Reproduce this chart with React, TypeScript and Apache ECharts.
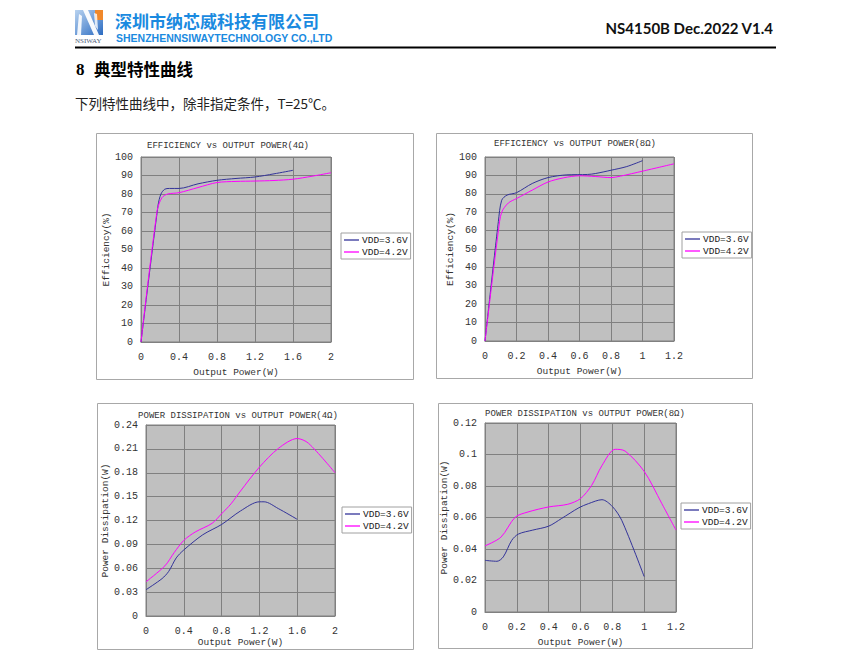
import React, { useEffect, useRef } from 'react';
import * as echarts from 'echarts';

const NAMES = ['VDD=3.6V', 'VDD=4.2V'];

// Efficiency vs output power (4 ohm)
const eff4V36 = [[0, 0], [0.18, 74], [0.21, 80], [0.25, 82.6], [0.3, 83], [0.4, 83], [0.6, 85.5], [0.8, 87.4], [1.0, 88.4], [1.2, 89.2], [1.4, 90.9], [1.6, 92.8]];
const eff4V42 = [[0, 0], [0.17, 71], [0.22, 78], [0.28, 80], [0.4, 80.7], [0.6, 83.5], [0.8, 86.2], [1.0, 86.8], [1.2, 87], [1.4, 87.3], [1.6, 88], [1.8, 89.6], [2.0, 91.5]];

// Efficiency vs output power (8 ohm)
const eff8V36 = [[0, 0], [0.085, 65], [0.106, 76.5], [0.14, 79.3], [0.2, 80.6], [0.3, 85.6], [0.4, 88.8], [0.52, 90.3], [0.65, 90.5], [0.7, 91], [0.8, 92.8], [0.9, 94.8], [1.0, 98]];
const eff8V42 = [[0, 0], [0.085, 60], [0.106, 70], [0.148, 75], [0.2, 77.4], [0.3, 82], [0.4, 86.4], [0.5, 88.7], [0.6, 89.8], [0.7, 89.4], [0.8, 88.8], [0.86, 89.6], [1.0, 92.3], [1.2, 96.3]];

// Power dissipation vs output power (4 ohm)
const pd4V36 = [[0, 0.033], [0.17, 0.047], [0.24, 0.056], [0.32, 0.073], [0.4, 0.083], [0.6, 0.102], [0.8, 0.115], [1.0, 0.132], [1.2, 0.1435], [1.25, 0.1435], [1.4, 0.135], [1.6, 0.1215]];
const pd4V42 = [[0, 0.043], [0.2, 0.063], [0.3, 0.08], [0.4, 0.095], [0.52, 0.1055], [0.7, 0.1165], [0.8, 0.1285], [0.9, 0.141], [1.0, 0.157], [1.2, 0.187], [1.4, 0.2105], [1.6, 0.223], [1.72, 0.217], [2.0, 0.18]];

// Power dissipation vs output power (8 ohm)
const pd8V36 = [[0, 0.0328], [0.075, 0.0322], [0.115, 0.035], [0.168, 0.0455], [0.21, 0.0495], [0.3, 0.052], [0.4, 0.0545], [0.48, 0.0593], [0.59, 0.0662], [0.65, 0.0688], [0.735, 0.0713], [0.8, 0.067], [0.86, 0.058], [1.0, 0.0225]];
const pd8V42 = [[0, 0.042], [0.1, 0.0475], [0.19, 0.0602], [0.27, 0.0635], [0.4, 0.0667], [0.52, 0.0684], [0.6, 0.072], [0.67, 0.0804], [0.735, 0.093], [0.818, 0.1033], [0.88, 0.1022], [1.0, 0.0893], [1.11, 0.069], [1.2, 0.052]];

const TITLES = [
  'EFFICIENCY vs OUTPUT POWER(4Ω)',
  'EFFICIENCY vs OUTPUT POWER(8Ω)',
  'POWER DISSIPATION vs OUTPUT POWER(4Ω)',
  'POWER DISSIPATION vs OUTPUT POWER(8Ω)',
];
const Y_NAMES = ['Efficiency(%)', 'Efficiency(%)', 'Power Dissipation(W)', 'Power Dissipation(W)'];
const X_NAME = 'Output Power(W)';
const X_MAX = [2, 1.2, 2, 1.2];
const X_STEP = [0.4, 0.2, 0.4, 0.2];
const Y_MAX = [100, 100, 0.24, 0.12];
const Y_STEP = [10, 10, 0.03, 0.02];
const DATA = [
  [eff4V36, eff4V42],
  [eff8V36, eff8V42],
  [pd4V36, pd4V42],
  [pd8V36, pd8V42],
];

const HEADER_CN = '深圳市纳芯威科技有限公司';
const HEADER_EN = 'SHENZHENNSIWAYTECHNOLOGY CO.,LTD';
const DOC_ID = 'NS4150B Dec.2022 V1.4';
const SECTION = '典型特性曲线';
const INTRO = '下列特性曲线中，除非指定条件，T=25℃。';

// layout (px)
const GRIDS = [
  { left: 141, top: 157, width: 190, height: 185 },
  { left: 485, top: 157, width: 189, height: 184 },
  { left: 146, top: 425, width: 189, height: 191 },
  { left: 485, top: 423, width: 191, height: 189 },
];
const FRAMES = [
  { x: 96.5, y: 133.5, width: 317, height: 246 },
  { x: 436.5, y: 133.5, width: 316, height: 245 },
  { x: 97.5, y: 403.5, width: 316, height: 246 },
  { x: 438.5, y: 403.5, width: 314, height: 245 },
];
const TITLE_POS = [[228, 146], [575, 144], [238, 416], [585, 414]];
const LEGEND_POS = [[341, 233], [682, 232], [342, 507], [681, 503]];
const Y_NAME_GAP = [29, 28, 34, 36];
const X_NAME_GAP = [25, 25, 21, 25];

const COLORS = ['#333399', '#ff00ff'];
const MONO = '"Liberation Mono", "DejaVu Sans Mono", monospace';

export default function App() {
  const ref = useRef<HTMLDivElement>(null);

  useEffect(() => {
    if (!ref.current) return;
    const chart = echarts.init(ref.current, undefined, { renderer: 'svg' });

    const grid: any[] = [];
    const xAxis: any[] = [];
    const yAxis: any[] = [];
    const series: any[] = [];
    const legend: any[] = [];
    const graphic: any[] = [];

    for (let i = 0; i < 4; i++) {
      grid.push({
        ...GRIDS[i],
        show: true,
        backgroundColor: '#c0c0c0',
        borderColor: '#808080',
        borderWidth: 1,
        containLabel: false,
      });
      xAxis.push({
        type: 'value',
        gridIndex: i,
        min: 0,
        max: X_MAX[i],
        interval: X_STEP[i],
        name: X_NAME,
        nameLocation: 'middle',
        nameGap: X_NAME_GAP[i],
        nameTextStyle: { fontFamily: MONO, fontSize: 9.5, color: '#333' },
        axisLine: { show: true, lineStyle: { color: '#808080', width: 1 } },
        axisTick: { show: false },
        axisLabel: { fontFamily: MONO, fontSize: 10, color: '#333', margin: 10 },
        splitLine: { show: true, lineStyle: { color: '#808080', width: 1 } },
      });
      yAxis.push({
        type: 'value',
        gridIndex: i,
        min: 0,
        max: Y_MAX[i],
        interval: Y_STEP[i],
        name: Y_NAMES[i],
        nameLocation: 'middle',
        nameGap: Y_NAME_GAP[i],
        nameTextStyle: { fontFamily: MONO, fontSize: 9.5, color: '#333' },
        axisLine: { show: true, lineStyle: { color: '#808080', width: 1 } },
        axisTick: { show: false },
        axisLabel: { fontFamily: MONO, fontSize: 10, color: '#333', margin: 8 },
        splitLine: { show: true, lineStyle: { color: '#808080', width: 1 } },
      });
      for (let s = 0; s < 2; s++) {
        series.push({
          type: 'line',
          name: NAMES[s],
          xAxisIndex: i,
          yAxisIndex: i,
          data: DATA[i][s],
          smooth: 0.3,
          showSymbol: false,
          symbol: 'none',
          color: COLORS[s],
          lineStyle: { color: COLORS[s], width: 1 },
        });
      }
      legend.push({
        data: NAMES,
        orient: 'vertical',
        left: LEGEND_POS[i][0],
        top: LEGEND_POS[i][1],
        icon: 'rect',
        itemWidth: 15,
        itemHeight: 1.3,
        itemGap: 2,
        padding: [2, 3, 2, 3],
        borderColor: '#a0a0a0',
        borderWidth: 1,
        backgroundColor: '#fff',
        selectedMode: false,
        textStyle: { fontFamily: MONO, fontSize: 9.5, color: '#222', padding: [0, 0, 0, -2] },
      });
      graphic.push({
        type: 'rect',
        shape: FRAMES[i],
        z: -10,
        style: { fill: 'none', stroke: '#a8a8a8', lineWidth: 1 },
      });
      graphic.push({
        type: 'text',
        x: TITLE_POS[i][0],
        y: TITLE_POS[i][1],
        style: {
          text: TITLES[i],
          fontFamily: MONO,
          fontSize: 9,
          fill: '#333',
          align: 'center',
          verticalAlign: 'middle',
        },
      });
    }

    // Header: logo
    graphic.push({
      type: 'group',
      x: 75,
      y: 10,
      children: [
        {
          type: 'rect',
          shape: { x: 0, y: 0, width: 28, height: 25 },
          style: {
            fill: new echarts.graphic.LinearGradient(0, 0, 1, 1, [
              { offset: 0, color: '#b9d3f0' },
              { offset: 1, color: '#2c6cc2' },
            ]),
          },
        },
        { type: 'rect', shape: { x: 20, y: 0, width: 8, height: 10 }, style: { fill: '#f0882a' } },
        { type: 'polygon', shape: { points: [[2, 25], [6, 25], [7, 6], [4, 4]] }, style: { fill: '#ffffff', opacity: 0.9 } },
        { type: 'polygon', shape: { points: [[8, 0], [13, 0], [24, 25], [19, 25]] }, style: { fill: '#ffffff', opacity: 0.95 } },
        { type: 'polygon', shape: { points: [[19, 3], [22, 4], [23, 20], [20, 16]] }, style: { fill: '#ffffff', opacity: 0.8 } },
        {
          type: 'text',
          x: 0,
          y: 31,
          style: { text: 'NSIWAY', fontFamily: '"Liberation Serif", serif', fontSize: 7, fill: '#4d5b78', align: 'left', verticalAlign: 'middle' },
        },
      ],
    });
    graphic.push({
      type: 'text',
      x: 115,
      y: 20,
      style: {
        text: HEADER_CN,
        fontFamily: '"Noto Sans CJK SC", sans-serif',
        fontWeight: 'bold',
        fontSize: 17,
        fill: '#1a8ae0',
        align: 'left',
        verticalAlign: 'middle',
      },
    });
    graphic.push({
      type: 'text',
      x: 116,
      y: 38,
      style: {
        text: HEADER_EN,
        fontFamily: '"Liberation Sans", sans-serif',
        fontWeight: 'bold',
        fontSize: 10.5,
        fill: '#1a8ae0',
        align: 'left',
        verticalAlign: 'middle',
      },
    });
    graphic.push({
      type: 'text',
      x: 773,
      y: 28,
      style: {
        text: DOC_ID,
        fontFamily: 'Lato, "Open Sans", sans-serif',
        fontWeight: 'bold',
        fontSize: 15,
        fill: '#111',
        align: 'right',
        verticalAlign: 'middle',
      },
    });
    graphic.push({
      type: 'line',
      shape: { x1: 75, y1: 47.5, x2: 776, y2: 47.5 },
      style: { stroke: '#000', lineWidth: 2 },
    });
    graphic.push({
      type: 'text',
      x: 76,
      y: 69,
      style: {
        text: '8',
        fontFamily: '"Liberation Serif", serif',
        fontWeight: 'bold',
        fontSize: 17,
        fill: '#000',
        align: 'left',
        verticalAlign: 'middle',
      },
    });
    graphic.push({
      type: 'text',
      x: 94,
      y: 69,
      style: {
        text: SECTION,
        fontFamily: '"Noto Sans CJK SC", sans-serif',
        fontWeight: 'bold',
        fontSize: 16.5,
        fill: '#000',
        align: 'left',
        verticalAlign: 'middle',
      },
    });
    graphic.push({
      type: 'text',
      x: 75,
      y: 103,
      style: {
        text: INTRO,
        fontFamily: '"Noto Sans CJK SC", sans-serif',
        fontSize: 13.5,
        fill: '#222',
        align: 'left',
        verticalAlign: 'middle',
      },
    });

    chart.setOption({
      animation: false,
      backgroundColor: '#ffffff',
      grid,
      xAxis,
      yAxis,
      legend,
      series,
      graphic,
    });

    return () => {
      chart.dispose();
    };
  }, []);

  return (
    <div
      ref={ref}
      style={{ position: 'absolute', left: 0, top: 0, width: 850, height: 659 }}
    />
  );
}
